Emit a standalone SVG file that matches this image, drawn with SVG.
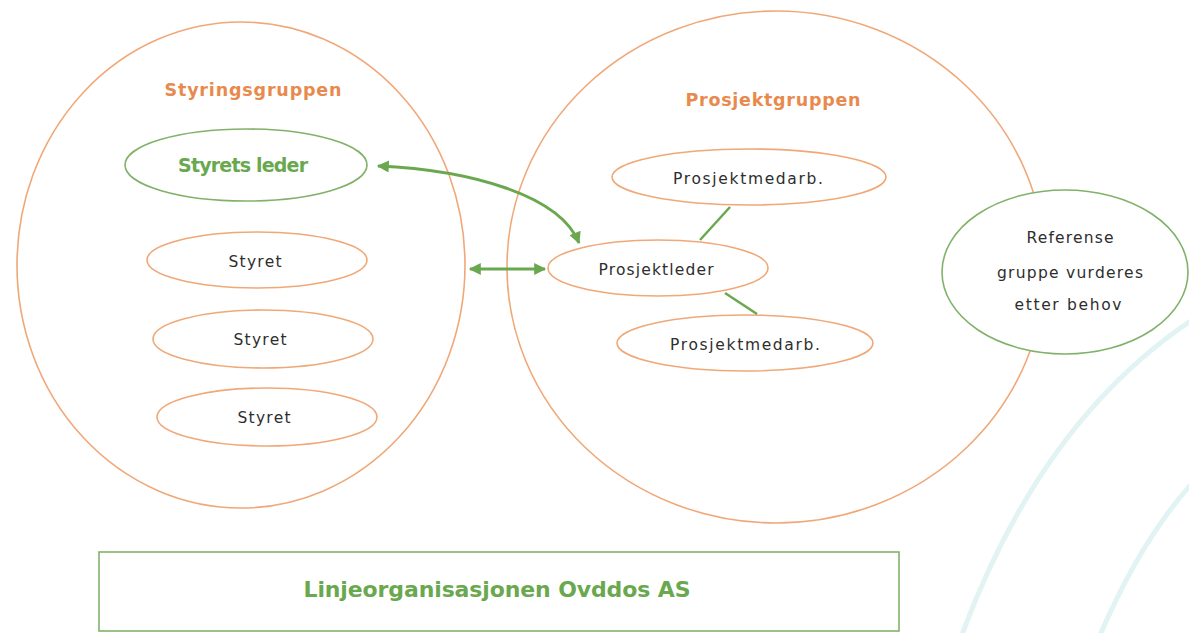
<svg xmlns="http://www.w3.org/2000/svg" width="1189" height="633" viewBox="0 0 1189 633">
<style>
.og{fill:none;stroke:#f0a878;stroke-width:1.6}
.gr{fill:none;stroke:#82b26a;stroke-width:1.6}
.t{font-family:"DejaVu Sans","Liberation Sans",sans-serif;font-size:15.5px;fill:#2e2e2e;text-anchor:middle;dominant-baseline:central}
.h{font-family:"DejaVu Sans","Liberation Sans",sans-serif;font-weight:bold;text-anchor:middle;dominant-baseline:central}
.conn{fill:none;stroke:#6aa84f;stroke-width:3}
.ln{fill:none;stroke:#6aa84f;stroke-width:2.5}
.deco{fill:none;stroke:#e2f3f3;stroke-width:5}
</style>
<defs>
<marker id="ah" viewBox="0 0 10 10" refX="9" refY="5" markerWidth="4.5" markerHeight="4" orient="auto-start-reverse" markerUnits="strokeWidth">
<path d="M0,0 L10,5 L0,10 z" fill="#6aa84f"/>
</marker>
</defs>
<rect width="1189" height="633" fill="#ffffff"/>
<g id="decoration">
<path class="deco" d="M960 640 Q1040 420 1195 318"/>
<path class="deco" d="M1098 640 Q1140 540 1195 480"/>
</g>
<g id="styringsgruppen">
<ellipse class="og" cx="241" cy="265" rx="224" ry="243"/>
<text class="h" x="253" y="90" font-size="17.5" fill="#e88a4e" textLength="177">Styringsgruppen</text>
</g>
<g id="prosjektgruppen">
<ellipse class="og" cx="776" cy="267" rx="269" ry="256"/>
<text class="h" x="773" y="100" font-size="17.5" fill="#e88a4e" textLength="175">Prosjektgruppen</text>
</g>
<g id="styrets-leder">
<ellipse class="gr" cx="246" cy="165" rx="121" ry="36"/>
<text class="h" x="243" y="165" font-size="19" fill="#6aa84f" textLength="130">Styrets leder</text>
</g>
<g id="styret-1">
<ellipse class="og" cx="257" cy="260" rx="110" ry="28"/>
<text class="t" x="255" y="262" textLength="53">Styret</text>
</g>
<g id="styret-2">
<ellipse class="og" cx="263" cy="339" rx="110" ry="29"/>
<text class="t" x="260" y="340" textLength="53">Styret</text>
</g>
<g id="styret-3">
<ellipse class="og" cx="267" cy="417" rx="110" ry="29"/>
<text class="t" x="264" y="418" textLength="53">Styret</text>
</g>
<g id="prosjektmedarb-1">
<ellipse class="og" cx="749" cy="177" rx="137" ry="28"/>
<text class="t" x="748" y="179" textLength="150">Prosjektmedarb.</text>
</g>
<g id="prosjektleder">
<ellipse class="og" cx="658" cy="268" rx="110" ry="28"/>
<text class="t" x="656" y="270" textLength="115">Prosjektleder</text>
</g>
<g id="prosjektmedarb-2">
<ellipse class="og" cx="745" cy="343" rx="128" ry="28"/>
<text class="t" x="745" y="345" textLength="150">Prosjektmedarb.</text>
</g>
<g id="referansegruppe">
<ellipse cx="1065" cy="272" rx="123" ry="82" fill="#ffffff" stroke="#82b26a" stroke-width="1.6"/>
<text class="t" x="1070" y="238" textLength="87">Referense</text>
<text class="t" x="1070" y="273" textLength="146">gruppe vurderes</text>
<text class="t" x="1068" y="305" textLength="107">etter behov</text>
</g>
<g id="linjeorganisasjonen">
<rect x="99" y="552" width="800" height="79" fill="none" stroke="#82b26a" stroke-width="1.6"/>
<text class="h" x="497" y="589" font-size="22" fill="#6aa84f" textLength="387">Linjeorganisasjonen Ovddos AS</text>
</g>
<g id="connectors">
<path class="conn" d="M378 166 C470 170 560 195 579 243" marker-start="url(#ah)" marker-end="url(#ah)"/>
<path class="conn" d="M470 269 L545 269" marker-start="url(#ah)" marker-end="url(#ah)"/>
<path class="ln" d="M730 207 L700 240"/>
<path class="ln" d="M725 293 L757 314"/>
</g>
</svg>
